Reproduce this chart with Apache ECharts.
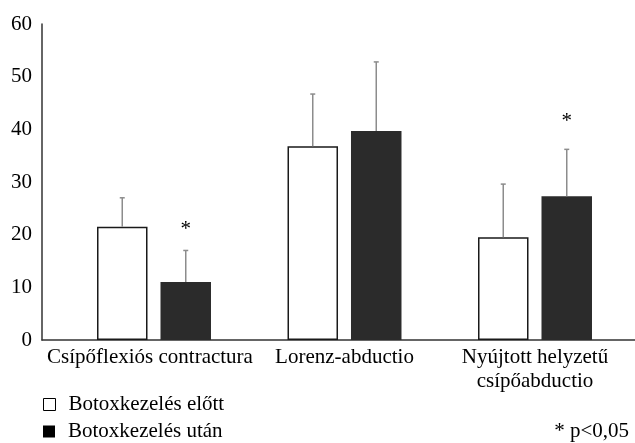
<!DOCTYPE html>
<html>
<head>
<meta charset="utf-8">
<script src="https://cdn.jsdelivr.net/npm/echarts@6/dist/echarts.min.js"></script>
<style>
html,body{margin:0;padding:0;background:#fff;}
#chart{width:635px;height:443px;}
</style>
</head>
<body>
<div id="chart"></div>
<script>
const categories = ['Csípőflexiós contractura', 'Lorenz-abductio', 'Nyújtott helyzetű\ncsípőabductio'];
const seriesNames = ['Botoxkezelés előtt', 'Botoxkezelés után'];
const beforeMean = [21.5, 36.8, 19.5];
const beforeSD = [5.5, 9.9, 10.1];
const afterMean = [11.0, 39.7, 27.3];
const afterSD = [6.0, 13.1, 8.9];
const asteriskBefore = [null, null, null];
const asteriskAfter = [20.9, null, 41.5];
const yTicks = [0, 10, 20, 30, 40, 50, 60];
const footnote = '* p<0,05';

const FONT = "'Liberation Serif', 'Times New Roman', 'DejaVu Serif', serif";
const BAR_W = 50.5;
const GAP = 13;

function errData(means, sds, ast) {
  return means.map((m, i) => [i, m, sds[i], ast[i] == null ? -1 : ast[i]]);
}

function makeErrRender(sign) {
  return function (params, api) {
    const idx = api.value(0);
    const mean = api.value(1);
    const sd = api.value(2);
    const ast = api.value(3);
    const base = api.coord([idx, mean]);
    const top = api.coord([idx, mean + sd]);
    const x = base[0] + sign * (BAR_W / 2 + GAP / 2);
    const children = [
      { type: 'line', shape: { x1: x, y1: base[1], x2: x, y2: top[1] },
        style: { stroke: '#8c8c8c', lineWidth: 1.5 } },
      { type: 'line', shape: { x1: x - 2.5, y1: top[1], x2: x + 2.5, y2: top[1] },
        style: { stroke: '#8c8c8c', lineWidth: 1.5 } }
    ];
    if (ast >= 0) {
      const p = api.coord([idx, ast]);
      children.push({ type: 'text', style: { text: '*', x: x, y: p[1], fill: '#000',
        fontFamily: FONT, fontSize: 21, align: 'center', verticalAlign: 'middle' } });
    }
    return { type: 'group', children: children };
  };
}

const legendText = { color: '#000', fontFamily: FONT, fontSize: 21, padding: [0, 0, 0, 8] };

const chart = echarts.init(document.getElementById('chart'));
chart.setOption({
  animation: false,
  backgroundColor: '#fff',
  textStyle: { fontFamily: FONT },
  grid: [
    { left: 58.75, right: 4.75, top: 24, bottom: 103 },
    { left: 42, right: 0, top: 24, bottom: 103 }
  ],
  xAxis: [
    { type: 'category', gridIndex: 0, data: categories,
      axisLine: { show: false }, axisTick: { show: false },
      axisLabel: { interval: 0, margin: 5, color: '#000', fontFamily: FONT, fontSize: 21, lineHeight: 24,
        formatter: (v, i) => i === 0 ? '{a|' + v + '}' : v,
        rich: { a: { padding: [0, 8, 0, 0], color: '#000', fontFamily: FONT, fontSize: 21, lineHeight: 24 } } } },
    { type: 'category', gridIndex: 1, data: categories,
      axisLine: { show: true, lineStyle: { color: '#333', width: 1.5 } },
      axisTick: { show: false }, axisLabel: { show: false } }
  ],
  yAxis: [
    { type: 'value', gridIndex: 0, min: yTicks[0], max: yTicks[yTicks.length - 1], interval: 10,
      offset: 16.75, splitLine: { show: false },
      axisLine: { show: true, lineStyle: { color: '#333', width: 1.5 } },
      axisTick: { show: false },
      axisLabel: { margin: 10, color: '#000', fontFamily: FONT, fontSize: 21 } },
    { type: 'value', gridIndex: 1, min: 0, max: 60, show: false }
  ],
  legend: [
    { left: 43, top: 394, padding: 0, itemWidth: 12, itemHeight: 12, icon: 'rect', textStyle: legendText,
      data: [{ name: seriesNames[0], itemStyle: { color: '#fff', borderColor: '#000', borderWidth: 1 } }] },
    { left: 43, top: 421, padding: 0, itemWidth: 12, itemHeight: 12, icon: 'rect', textStyle: legendText,
      data: [{ name: seriesNames[1], itemStyle: { color: '#000', borderWidth: 0 } }] }
  ],
  title: {
    text: footnote, right: 6, top: 421, padding: 0,
    textStyle: { color: '#000', fontFamily: FONT, fontSize: 21, fontWeight: 'normal' }
  },
  series: [
    { name: seriesNames[0], type: 'bar', xAxisIndex: 0, yAxisIndex: 0, data: beforeMean,
      barWidth: BAR_W, barGap: (GAP / BAR_W * 100).toFixed(1) + '%',
      itemStyle: { color: '#fff', borderColor: '#1a1a1a', borderWidth: 1.5 } },
    { name: seriesNames[1], type: 'bar', xAxisIndex: 0, yAxisIndex: 0, data: afterMean,
      barWidth: BAR_W, barGap: (GAP / BAR_W * 100).toFixed(1) + '%',
      itemStyle: { color: '#2b2b2b' } },
    { type: 'custom', xAxisIndex: 0, yAxisIndex: 0, renderItem: makeErrRender(-1),
      data: errData(beforeMean, beforeSD, asteriskBefore), z: 5, clip: false, silent: true },
    { type: 'custom', xAxisIndex: 0, yAxisIndex: 0, renderItem: makeErrRender(1),
      data: errData(afterMean, afterSD, asteriskAfter), z: 5, clip: false, silent: true }
  ]
});
</script>
</body>
</html>
